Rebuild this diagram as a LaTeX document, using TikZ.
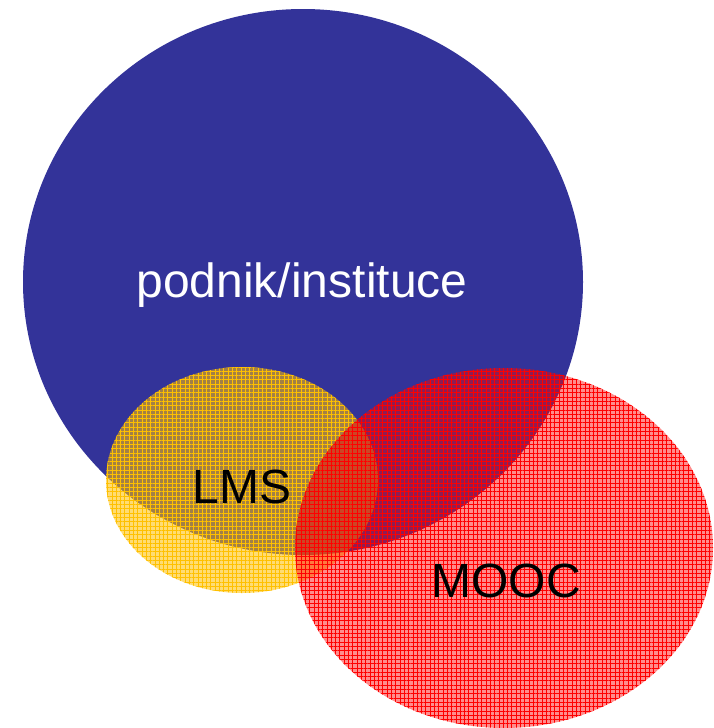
\documentclass[tikz,border=0pt]{standalone}
\usepackage{fontspec}
\setmainfont{Liberation Sans}
\usetikzlibrary{shapes.geometric,patterns.meta}
\definecolor{bigblue}{HTML}{333399}
\definecolor{lmsyellow}{HTML}{FFC000}
\definecolor{moocred}{HTML}{FF0000}
\tikzset{
  setshape/.style={ellipse, inner sep=0pt, draw=none},
  hgrid/.style={pattern={Lines[distance=4.3pt,line width=0.5pt,angle=0]}, pattern color=#1},
  vgrid/.style={pattern={Lines[distance=4.3pt,line width=0.5pt,angle=90]}, pattern color=#1},
  label46/.style={font=\fontsize{48}{52}\selectfont, inner sep=0pt, anchor=center}
}
\begin{document}
\begin{tikzpicture}[x=1pt,y=-1pt]
\useasboundingbox (0,0) rectangle (713,728);
% big blue
\node[setshape, fill=bigblue, minimum width=560pt, minimum height=546pt] (podnik) at (303,282) {};
% LMS
\node[setshape, fill=lmsyellow, fill opacity=0.55, minimum width=272pt, minimum height=226pt] (lms) at (242,480) {};
\node[setshape, hgrid=lmsyellow, fill opacity=0.7, minimum width=272pt, minimum height=226pt] (lmsg1) at (242,480) {};
\node[setshape, vgrid=lmsyellow, fill opacity=0.7, minimum width=272pt, minimum height=226pt] (lmsg2) at (242,480) {};
% MOOC
\node[setshape, fill=moocred, fill opacity=0.45, minimum width=418pt, minimum height=360pt] (mooc) at (504,548) {};
\node[setshape, hgrid=moocred, fill opacity=0.7, minimum width=418pt, minimum height=360pt] (moocg1) at (504,548) {};
\node[setshape, vgrid=moocred, fill opacity=0.7, minimum width=418pt, minimum height=360pt] (moocg2) at (504,548) {};
% labels
\node[label46, text=white] (tpodnik) at (302,285) {podnik/instituce};
\node[label46, text=black] (tlms) at (242,487) {LMS};
\node[label46, text=black] (tmooc) at (506,581) {MOOC};
\end{tikzpicture}
\end{document}
